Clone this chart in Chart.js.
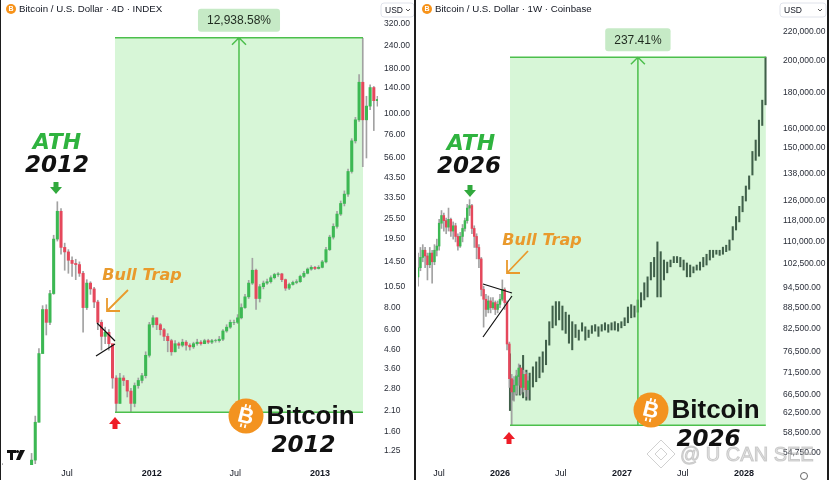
<!DOCTYPE html>
<html>
<head>
<meta charset="utf-8">
<script src="https://cdn.jsdelivr.net/npm/chart.js@4.4.1/dist/chart.umd.min.js"></script>
<style>
html, body { margin: 0; padding: 0; background: #fff; width: 829px; height: 480px; overflow: hidden; }
.pane { position: absolute; top: 0; height: 480px; }
.rule { position: absolute; top: 0; height: 480px; background: #1d1d1d; }
</style>
</head>
<body>
<div class="rule" style="left:0;width:1px"></div>
<div class="pane" style="left:1px;width:413px"><canvas id="leftChart" width="413" height="480"></canvas></div>
<div class="rule" style="left:414px;width:2px"></div>
<div class="pane" style="left:416px;width:411px"><canvas id="rightChart" width="411" height="480"></canvas></div>
<div class="rule" style="left:827px;width:2px"></div>
<script>
// ---- left panel: BTC 2011-2013, candles every 8 days (x = days since 1 Jan 2011)
const leftStartDay = 40, leftStepDays = 8, leftFirstOpen = 1.02;
const leftClose = [1.00, 0.98, 0.92, 0.88, 0.85, 0.80, 0.86, 0.92, 1.10, 1.80,
    4.40, 7.80, 6.60, 9.60, 19.5, 28.0, 17.5, 16.5, 14.8, 14.2,
    14.0, 12.5, 8.0, 11.0, 10.2, 8.6, 6.6, 5.5, 5.8, 5.0,
    3.2, 2.3, 3.2, 3.1, 2.7, 2.3, 2.9, 3.1, 3.3, 4.3,
    6.4, 7.0, 6.4, 6.0, 5.5, 5.2, 4.5, 5.0, 4.9, 5.1,
    4.9, 4.8, 5.0, 5.1, 5.0, 5.2, 5.1, 5.2, 5.2, 5.3,
    5.9, 6.2, 6.6, 6.6, 7.0, 8.0, 9.2, 11.0, 13.0, 9.0,
    10.5, 11.0, 11.2, 11.8, 12.3, 12.4, 11.5, 10.3, 10.8, 11.1,
    11.2, 12.0, 12.5, 13.2, 13.5, 13.3, 13.5, 14.5, 17.0, 20.0,
    23.0, 27.0, 31.0, 35.0, 47.0, 70.0, 92.0, 150, 92.0, 110,
    140, 118, 120];
const leftHigh = [1.05, 1.02, 0.98, 0.94, 0.90, 0.86, 0.90, 0.98, 1.20, 1.95,
    4.70, 8.20, 8.30, 10.0, 20.5, 31.7, 29.0, 18.5, 17.0, 15.5,
    15.0, 14.5, 12.8, 11.5, 11.2, 10.4, 8.8, 6.8, 6.2, 6.0,
    4.6, 3.3, 3.4, 3.3, 3.1, 2.8, 3.0, 3.2, 3.4, 4.5,
    6.6, 7.2, 7.0, 6.5, 6.1, 5.7, 5.3, 5.2, 5.1, 5.3,
    5.2, 5.0, 5.1, 5.3, 5.2, 5.3, 5.3, 5.3, 5.3, 5.5,
    6.0, 6.4, 6.8, 6.8, 7.3, 8.4, 9.5, 11.4, 15.2, 13.2,
    10.8, 11.3, 11.6, 12.1, 12.5, 12.6, 12.5, 11.6, 11.0, 11.3,
    11.5, 12.2, 12.8, 13.4, 13.8, 13.7, 13.8, 14.8, 17.5, 20.5,
    23.8, 28.0, 32.0, 36.5, 48.5, 72.0, 95.0, 166, 266, 125,
    145, 142, 125];
const leftLow = [0.95, 0.92, 0.88, 0.84, 0.80, 0.76, 0.78, 0.85, 0.90, 1.05,
    1.80, 4.40, 5.60, 6.40, 9.50, 19.0, 16.0, 13.0, 12.5, 12.0,
    11.5, 12.0, 5.8, 7.8, 9.5, 8.0, 6.0, 4.6, 5.0, 4.6,
    2.8, 2.05, 2.3, 2.9, 2.5, 2.05, 2.2, 2.8, 3.0, 3.2,
    4.2, 6.2, 6.0, 5.6, 5.2, 4.5, 4.3, 4.5, 4.7, 4.8,
    4.6, 4.6, 4.7, 4.9, 4.9, 5.0, 5.0, 5.0, 5.1, 5.1,
    5.2, 5.8, 6.1, 6.4, 6.5, 6.9, 7.9, 9.0, 10.8, 7.8,
    8.6, 10.2, 10.8, 11.0, 11.6, 12.0, 11.2, 10.0, 10.1, 10.7,
    10.9, 11.1, 11.8, 12.4, 13.0, 13.1, 13.2, 13.4, 14.3, 16.8,
    19.5, 22.5, 26.5, 30.0, 34.0, 46.0, 68.0, 90.0, 50.0, 56.0,
    105, 80, 110];
const leftPriceTicks = [1.25, 1.6, 2.1, 2.8, 3.6, 4.6, 6, 8, 10.5, 14.5, 19.5, 25.5, 33.5, 43.5, 56, 76, 100, 140, 180, 240, 320];
const leftTickDays = [181, 365, 547, 731];
const leftTickLabels = ['Jul', '2012', 'Jul', '2013'];
const leftRange = {from: 285.3, to: 824.5, low: 2.05, high: 267.3, label: '12,938.58%'};

// ---- right panel: weekly candles (x = weeks since 1 Jan 2026) + projected bars
const rightStartWeek = -35, rightFirstOpen = 98000;
const rightClose = [101000, 104500, 107000, 105000, 102000, 106000, 103000, 107000, 108500, 117000,
    120000, 118000, 115500, 118500, 114000, 116000, 112000, 108500, 112000, 115000,
    118000, 123000, 124000, 115000, 112000, 108000, 104000, 94000, 91000, 88000,
    90500, 88500, 90000, 88000, 89500, 91000, 94000, 90000, 78500, 70000,
    67000, 68500, 70500, 72500, 68000, 71000, 67500, 69500];
const rightHigh = [106000, 108000, 109000, 108000, 106000, 108000, 107000, 109000, 111000, 118500,
    122000, 121000, 119000, 123000, 119000, 117500, 117000, 113000, 113500, 116500,
    119000, 124500, 126500, 124500, 116000, 113000, 109000, 104500, 95000, 92500,
    92000, 91500, 91500, 90500, 90500, 92500, 97000, 94500, 90500, 79000,
    71000, 70500, 72000, 73500, 72500, 72000, 71500, 70500];
const rightLow = [95000, 100000, 103000, 101000, 97000, 101000, 96000, 102000, 105000, 107000,
    115000, 114000, 113000, 114000, 112000, 111000, 110000, 107000, 108000, 110000,
    114000, 117000, 120000, 113000, 108000, 104000, 101000, 92000, 83000, 86000,
    87000, 87000, 88000, 86500, 87000, 88500, 90500, 88000, 77000, 68000,
    60000, 65000, 66500, 68500, 66500, 67000, 66000, 65500];
const projStartWeek = 4.27, projStepWeeks = 1.4;
const projHigh = [76000, 69700, 70800, 73200, 75600, 72000, 71300, 72800, 74000, 75200,
    76500, 79500, 84500, 89000, 90300, 90300, 89000, 87200, 86400, 84500,
    83700, 82200, 84200, 83100, 82200, 83400, 83700, 83100, 83700, 84200,
    83700, 84200, 84500, 84000, 84500, 85600, 88700, 89400, 89000, 90800,
    93000, 96100, 98000, 102800, 104500, 110000, 106500, 103600, 102900, 103600,
    104800, 104800, 104500, 103600, 102600, 101900, 101300, 101900, 102900, 104500,
    105600, 107000, 107000, 107000, 107000, 108100, 108800, 110700, 115700, 119600,
    123700, 127900, 132300, 136800, 148300, 154000, 164500, 175700, 202600];
const projLow = [63000, 65200, 66300, 66300, 65700, 65200, 65200, 68100, 69300, 70200,
    71500, 73300, 78200, 82800, 83500, 85000, 82200, 81300, 78700, 77000,
    80200, 79500, 81900, 79500, 80200, 81300, 81900, 80500, 81900, 82200,
    81600, 82200, 82200, 81900, 82800, 83400, 84200, 85600, 85800, 87200,
    88700, 90800, 91700, 97000, 98000, 91700, 91700, 97000, 99300, 101300,
    102700, 102700, 101300, 100200, 98000, 98000, 99300, 100200, 100200, 101300,
    101900, 103600, 104500, 105600, 105200, 105600, 106500, 107000, 110700, 114400,
    117500, 121500, 125900, 130900, 137200, 144000, 146000, 161600, 173000];
const rightPriceTicks = [54750, 58500, 62500, 66500, 71500, 76500, 82500, 88500, 94500, 102500, 110000,
    118000, 126000, 138000, 150000, 160000, 180000, 200000, 220000];
const rightTickWeeks = [-26.1, 0, 26, 52.1, 78.1, 104.3];
const rightTickLabels = ['Jul', '2026', 'Jul', '2027', 'Jul', '2028'];
const rightRange = {from: 4.27, to: 113.6, low: 60000, high: 202446, label: '237.41%'};

const GREEN = '#3cb853', RED = '#e5485c', WICK = '#a2a2a2', PROJ = '#40604a';
const TXT = '#131722';
const ORANGE = '#e99a2c';

function candleSets(xs, close, high, low, firstOpen, bodyW) {
    const open = close.map((c, i) => i === 0 ? firstOpen : close[i - 1]);
    return [
        {data: close.map((c, i) => ({x: xs[i], y: [open[i], c]})),
         backgroundColor: close.map((c, i) => c >= open[i] ? GREEN : RED),
         barThickness: bodyW, grouped: false, order: 1},
        {data: close.map((c, i) => ({x: xs[i], y: [low[i], high[i]]})),
         backgroundColor: WICK, barThickness: 1, grouped: false, order: 2}
    ];
}

function xScale(min, max, tickVals, tickLabels) {
    return {
        type: 'linear', min: min, max: max, bounds: 'data', offset: false,
        grid: {display: false, drawTicks: false}, border: {display: false},
        afterBuildTicks: s => { s.ticks = tickVals.map(v => ({value: v})); },
        afterFit: s => { s.height = 15; },
        ticks: {
            autoSkip: false, maxRotation: 0, padding: 3, color: TXT,
            font: c => ({family: 'Liberation Sans', size: 9, weight: /^\d/.test(tickLabels[c.index] || '') ? 'bold' : 'normal'}),
            callback: (v, i) => tickLabels[i]
        }
    };
}

function yScale(min, max, tickVals, width, pad, fmt) {
    return {
        type: 'logarithmic', position: 'right', min: min, max: max, bounds: 'data',
        grid: {display: false, drawTicks: false}, border: {display: false},
        afterBuildTicks: s => { s.ticks = tickVals.map(v => ({value: v})); },
        afterFit: s => { s.width = width; },
        ticks: {autoSkip: false, padding: pad, color: '#2a2e39', font: {family: 'Liberation Sans', size: 8.5}, callback: fmt}
    };
}

function roundRect(ctx, x, y, w, h, r) {
    ctx.beginPath();
    ctx.moveTo(x + r, y);
    ctx.arcTo(x + w, y, x + w, y + h, r);
    ctx.arcTo(x + w, y + h, x, y + h, r);
    ctx.arcTo(x, y + h, x, y, r);
    ctx.arcTo(x, y, x + w, y, r);
    ctx.closePath();
}

function rangePix(chart, r) {
    const {x, y} = chart.scales;
    return {x0: x.getPixelForValue(r.from), x1: x.getPixelForValue(r.to), y0: y.getPixelForValue(r.high), y1: y.getPixelForValue(r.low)};
}

function rangeFill(chart, r) {
    const p = rangePix(chart, r), ctx = chart.ctx;
    ctx.save();
    ctx.fillStyle = '#d7f6d7';
    ctx.fillRect(p.x0, p.y0, p.x1 - p.x0, p.y1 - p.y0);
    ctx.restore();
}

function rangeLines(chart, r) {
    const p = rangePix(chart, r), ctx = chart.ctx, mid = (p.x0 + p.x1) / 2;
    ctx.save();
    ctx.strokeStyle = '#4cbf4c';
    ctx.lineWidth = 1.5;
    ctx.beginPath();
    ctx.moveTo(p.x0, p.y0); ctx.lineTo(p.x1, p.y0);
    ctx.moveTo(p.x0, p.y1); ctx.lineTo(p.x1, p.y1);
    ctx.moveTo(mid, p.y1); ctx.lineTo(mid, p.y0);
    ctx.moveTo(mid - 7, p.y0 + 7); ctx.lineTo(mid, p.y0); ctx.lineTo(mid + 7, p.y0 + 7);
    ctx.stroke();
    ctx.font = '12px "Liberation Sans"';
    const w = ctx.measureText(r.label).width + 18, h = 23;
    roundRect(ctx, mid - w / 2, p.y0 - 6 - h, w, h, 3);
    ctx.fillStyle = '#c6eac6';
    ctx.fill();
    ctx.fillStyle = '#1f2a1f';
    ctx.textAlign = 'center';
    ctx.textBaseline = 'middle';
    ctx.fillText(r.label, mid, p.y0 - 6 - h / 2 + 0.5);
    ctx.restore();
}

function header(ctx, cx, cy, text) {
    ctx.fillStyle = '#f7931a';
    ctx.beginPath(); ctx.arc(cx, cy, 5, 0, Math.PI * 2); ctx.fill();
    ctx.fillStyle = '#fff';
    ctx.font = 'bold 7px "Liberation Sans"';
    ctx.textAlign = 'center'; ctx.textBaseline = 'middle';
    ctx.fillText('B', cx, cy + 0.5);
    ctx.fillStyle = TXT;
    ctx.font = '9.7px "Liberation Sans"';
    ctx.textAlign = 'left';
    ctx.fillText(text, cx + 8, cy + 0.5);
}

function usdBox(ctx, x, y, w, h) {
    roundRect(ctx, x, y, w, h, 3);
    ctx.fillStyle = '#fff'; ctx.fill();
    ctx.strokeStyle = '#e0e3eb'; ctx.lineWidth = 1; ctx.stroke();
    ctx.fillStyle = TXT;
    ctx.font = '8.5px "Liberation Sans"';
    ctx.textAlign = 'left'; ctx.textBaseline = 'middle';
    ctx.fillText('USD', x + 4, y + h / 2 + 0.5);
    ctx.beginPath();
    ctx.moveTo(x + w - 8, y + h / 2 - 1); ctx.lineTo(x + w - 6, y + h / 2 + 1); ctx.lineTo(x + w - 4, y + h / 2 - 1);
    ctx.strokeStyle = '#555'; ctx.stroke();
}

function label(ctx, text, x, y, color, font, align) {
    ctx.fillStyle = color;
    ctx.font = font;
    ctx.textAlign = align || 'center';
    ctx.textBaseline = 'middle';
    ctx.fillText(text, x, y);
}

function arrowDown(ctx, cx, top, color) {
    ctx.fillStyle = color;
    ctx.fillRect(cx - 2.5, top, 5, 6);
    ctx.beginPath(); ctx.moveTo(cx - 6, top + 5); ctx.lineTo(cx + 6, top + 5); ctx.lineTo(cx, top + 12); ctx.closePath(); ctx.fill();
}

function arrowUp(ctx, cx, top, color) {
    ctx.fillStyle = color;
    ctx.beginPath(); ctx.moveTo(cx, top); ctx.lineTo(cx + 6, top + 7); ctx.lineTo(cx - 6, top + 7); ctx.closePath(); ctx.fill();
    ctx.fillRect(cx - 2.5, top + 6, 5, 6);
}

function pointer(ctx, x0, y0, x1, y1, head) {
    ctx.strokeStyle = ORANGE; ctx.lineWidth = 1.8;
    ctx.beginPath();
    ctx.moveTo(x0, y0); ctx.lineTo(x1, y1);
    ctx.moveTo(x1 + head, y1); ctx.lineTo(x1, y1); ctx.lineTo(x1, y1 - head);
    ctx.stroke();
}

function triangle(ctx, ax, ay, bx, by, tx, ty) {
    ctx.strokeStyle = '#111'; ctx.lineWidth = 1.2;
    ctx.beginPath();
    ctx.moveTo(ax, ay); ctx.lineTo(tx, ty);
    ctx.moveTo(bx, by); ctx.lineTo(tx, ty + 3);
    ctx.stroke();
}

function btcLogo(ctx, cx, cy, r, word, year) {
    ctx.fillStyle = '#f39320';
    ctx.beginPath(); ctx.arc(cx, cy, r, 0, Math.PI * 2); ctx.fill();
    ctx.save();
    ctx.translate(cx, cy); ctx.rotate(0.24);
    ctx.fillStyle = '#fff';
    ctx.font = 'bold ' + Math.round(r * 1.25) + 'px "Liberation Sans"';
    ctx.textAlign = 'center'; ctx.textBaseline = 'middle';
    ctx.fillText('B', 0, 1);
    ctx.fillRect(-r * 0.2, -r * 0.66, r * 0.1, r * 0.2);
    ctx.fillRect(r * 0.04, -r * 0.66, r * 0.1, r * 0.2);
    ctx.fillRect(-r * 0.2, r * 0.48, r * 0.1, r * 0.2);
    ctx.fillRect(r * 0.04, r * 0.48, r * 0.1, r * 0.2);
    ctx.restore();
    label(ctx, word, cx + r + 3, cy + 1, '#111', 'bold 26px "Liberation Sans"', 'left');
    label(ctx, year, cx + r + 40, cy + 30, '#111', 'italic bold 23px "DejaVu Sans"');
}

const leftNotes = {
    id: 'leftNotes',
    beforeDatasetsDraw(chart) { rangeFill(chart, leftRange); },
    afterDraw(chart) {
        rangeLines(chart, leftRange);
        const ctx = chart.ctx;
        ctx.save();
        ctx.translate(-1, 0);
        header(ctx, 11, 9, 'Bitcoin / U.S. Dollar \u00b7 4D \u00b7 INDEX');
        usdBox(ctx, 381, 3, 33, 14);
        label(ctx, 'ATH', 57, 143, '#2fb33f', 'italic bold 22px "DejaVu Sans"');
        label(ctx, '2012', 57, 166, '#111', 'italic bold 23px "DejaVu Sans"');
        arrowDown(ctx, 56, 182, '#31a93d');
        label(ctx, 'Bull Trap', 142, 276, ORANGE, 'italic bold 16px "DejaVu Sans"');
        pointer(ctx, 128, 290, 107, 311, 13);
        triangle(ctx, 97, 323, 96, 356, 115, 341);
        arrowUp(ctx, 115, 417, '#ee1d27');
        btcLogo(ctx, 246, 416, 17.5, 'Bitcoin', '2012');
        // TradingView mark
        ctx.fillStyle = '#111';
        ctx.fillRect(7, 450, 9, 3); ctx.fillRect(10, 450, 3, 10);
        ctx.beginPath(); ctx.arc(17.5, 451.5, 1.6, 0, Math.PI * 2); ctx.fill();
        ctx.beginPath(); ctx.moveTo(20, 450); ctx.lineTo(25, 450); ctx.lineTo(20, 460); ctx.lineTo(16, 460); ctx.closePath(); ctx.fill();
        ctx.restore();
    }
};

const rightNotes = {
    id: 'rightNotes',
    beforeDatasetsDraw(chart) { rangeFill(chart, rightRange); },
    afterDraw(chart) {
        rangeLines(chart, rightRange);
        const ctx = chart.ctx;
        ctx.save();
        ctx.translate(-416, 0);
        header(ctx, 427, 9, 'Bitcoin / U.S. Dollar \u00b7 1W \u00b7 Coinbase');
        usdBox(ctx, 780, 3, 46, 14);
        label(ctx, 'ATH', 471, 144, '#2fb33f', 'italic bold 22px "DejaVu Sans"');
        label(ctx, '2026', 469, 167, '#111', 'italic bold 23px "DejaVu Sans"');
        arrowDown(ctx, 470, 185, '#31a93d');
        label(ctx, 'Bull Trap', 542, 241, ORANGE, 'italic bold 16px "DejaVu Sans"');
        pointer(ctx, 528, 251, 507, 273, 13);
        triangle(ctx, 483, 284, 483, 337, 512, 293);
        arrowUp(ctx, 509, 432, '#ee1d27');
        btcLogo(ctx, 651, 410, 17.5, 'Bitcoin', '2026');
        // watermark
        ctx.globalAlpha = 0.45;
        ctx.strokeStyle = '#9a9a9a'; ctx.lineWidth = 1;
        ctx.beginPath();
        ctx.moveTo(661, 440); ctx.lineTo(675, 454); ctx.lineTo(661, 468); ctx.lineTo(647, 454); ctx.closePath();
        ctx.moveTo(661, 448); ctx.lineTo(667, 454); ctx.lineTo(661, 460); ctx.lineTo(655, 454); ctx.closePath();
        ctx.stroke();
        ctx.font = '20px "Liberation Sans"';
        ctx.textAlign = 'left'; ctx.textBaseline = 'middle';
        ctx.fillStyle = '#c8c8c8';
        ctx.fillText('@ U CAN SEE', 680, 455);
        ctx.strokeText('@ U CAN SEE', 680, 455);
        ctx.globalAlpha = 1;
        ctx.strokeStyle = '#666'; ctx.lineWidth = 1;
        ctx.beginPath(); ctx.arc(804, 476, 3.5, 0, Math.PI * 2); ctx.stroke();
        ctx.restore();
    }
};

const leftDays = leftClose.map((c, i) => leftStartDay + i * leftStepDays);
new Chart(document.getElementById('leftChart'), {
    type: 'bar',
    data: {datasets: candleSets(leftDays, leftClose, leftHigh, leftLow, leftFirstOpen, 2.4)},
    options: {
        responsive: false, animation: false,
        layout: {padding: {left: 1, top: 8, right: 0, bottom: 0}},
        plugins: {legend: {display: false}, tooltip: {enabled: false}},
        scales: {
            x: xScale(39.7, 857.1, leftTickDays, leftTickLabels),
            y: yScale(1.032, 378.5, leftPriceTicks, 36, 6, v => Number(v).toFixed(2))
        }
    },
    plugins: [leftNotes]
});

const rightWeeks = rightClose.map((c, i) => rightStartWeek + i);
const projWeeks = projHigh.map((h, k) => projStartWeek + k * projStepWeeks);
new Chart(document.getElementById('rightChart'), {
    type: 'bar',
    data: {
        datasets: candleSets(rightWeeks, rightClose, rightHigh, rightLow, rightFirstOpen, 1.8).concat([
            {data: projHigh.map((h, k) => ({x: projWeeks[k], y: [projLow[k], h]})),
             backgroundColor: PROJ, barThickness: 1.4, grouped: false, order: 3}
        ])
    },
    options: {
        responsive: false, animation: false,
        layout: {padding: {left: 2, top: 8, right: 0, bottom: 0}},
        plugins: {legend: {display: false}, tooltip: {enabled: false}},
        scales: {
            x: xScale(-35.04, 119.66, rightTickWeeks, rightTickLabels),
            y: yScale(52630, 238150, rightPriceTicks, 47, 3,
                v => Number(v).toLocaleString('en-US', {minimumFractionDigits: 2, maximumFractionDigits: 2}))
        }
    },
    plugins: [rightNotes]
});
</script>
</body>
</html>
